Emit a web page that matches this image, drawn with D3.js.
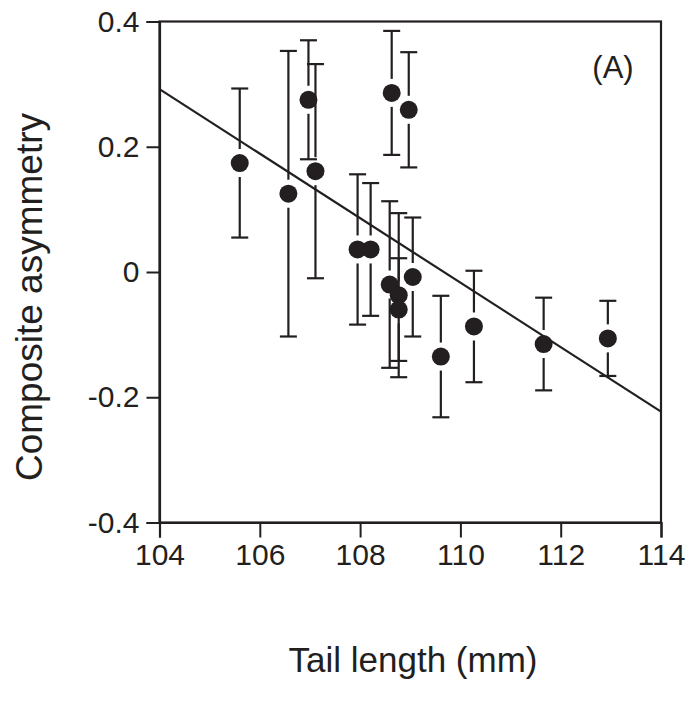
<!DOCTYPE html>
<html><head><meta charset="utf-8">
<script src="https://cdn.jsdelivr.net/npm/d3@7"></script>
<style>body{margin:0;background:#fff}svg{display:block}text{font-family:"Liberation Sans",Arial,sans-serif;fill:#231f20}</style>
</head><body><div id="c"></div>
<script>
const tailLength = [105.6, 106.57, 106.97, 107.11, 107.95, 108.21, 108.59, 108.77, 108.77, 109.05, 109.61, 110.27, 111.66, 112.94, 108.63, 108.97];
const asymmetry  = [0.174, 0.125, 0.275, 0.161, 0.036, 0.036, -0.020, -0.037, -0.060, -0.008, -0.135, -0.087, -0.115, -0.106, 0.286, 0.259];
const errorSize  = [0.119, 0.228, 0.095, 0.171, 0.120, 0.106, 0.133, 0.131, 0.082, 0.095, 0.097, 0.089, 0.074, 0.060, 0.099, 0.092];
const fitX = [104, 114];
const fitY = [0.292, -0.223];
const xTicks = [104, 106, 108, 110, 112, 114];
const yTicks = [-0.4, -0.2, 0, 0.2, 0.4];
const yTickLabels = ["-0.4", "-0.2", "0", "0.2", "0.4"];

const W = 691, H = 702;
const L = 159.5, R = 661, T = 21.5, B = 522.5;
const ink = "#231f20";
const svg = d3.select("#c").append("svg").attr("width", W).attr("height", H);
const x = d3.scaleLinear().domain([104, 114]).range([L, R]);
const y = d3.scaleLinear().domain([-0.4, 0.4]).range([B, T]);

// frame
svg.append("rect").attr("x", L).attr("y", T).attr("width", R - L).attr("height", B - T)
  .attr("fill", "none").attr("stroke", ink).attr("stroke-width", 2.2);

const xAxis = svg.append("g").attr("transform", `translate(0,${B})`)
  .call(d3.axisBottom(x).tickValues(xTicks).tickSize(15).tickPadding(6).tickFormat(d3.format("d")));
const yAxis = svg.append("g").attr("transform", `translate(${L},0)`)
  .call(d3.axisLeft(y).tickValues(yTicks).tickSize(13).tickPadding(7).tickFormat((d, i) => yTickLabels[i]));
[xAxis, yAxis].forEach(g => {
  g.select(".domain").attr("stroke", ink).attr("stroke-width", 2.2);
  g.selectAll(".tick line").attr("stroke", ink).attr("stroke-width", 2);
  g.selectAll(".tick text").attr("fill", ink).style("font-size", "30px");
});

// regression line
svg.append("line").attr("x1", x(fitX[0])).attr("y1", y(fitY[0])).attr("x2", x(fitX[1])).attr("y2", y(fitY[1]))
  .attr("stroke", ink).attr("stroke-width", 2.2);

const r = 9, gap = 5, cap = 8.5;
const pts = tailLength.map((t, i) => ({ t, v: asymmetry[i], e: errorSize[i] }));
const eb = svg.append("g").attr("stroke", ink).attr("stroke-width", 2.2);
pts.forEach(p => {
  const cx = x(p.t), cy = y(p.v), yt = y(p.v + p.e), yb = y(p.v - p.e);
  if (cy - r - gap > yt) eb.append("line").attr("x1", cx).attr("x2", cx).attr("y1", yt).attr("y2", cy - r - gap);
  if (cy + r + gap < yb) eb.append("line").attr("x1", cx).attr("x2", cx).attr("y1", cy + r + gap).attr("y2", yb);
  eb.append("line").attr("x1", cx - cap).attr("x2", cx + cap).attr("y1", yt).attr("y2", yt);
  eb.append("line").attr("x1", cx - cap).attr("x2", cx + cap).attr("y1", yb).attr("y2", yb);
});
svg.append("g").selectAll("circle").data(pts).join("circle")
  .attr("cx", d => x(d.t)).attr("cy", d => y(d.v)).attr("r", r).attr("fill", ink);

svg.append("text").attr("x", 613).attr("y", 78).attr("text-anchor", "middle").style("font-size", "31px").text("(A)");
svg.append("text").attr("x", 413).attr("y", 672).attr("text-anchor", "middle").style("font-size", "35px").text("Tail length (mm)");
svg.append("text").attr("transform", "translate(42,297) rotate(-90)").attr("text-anchor", "middle").style("font-size", "37px").text("Composite asymmetry");
</script></body></html>
